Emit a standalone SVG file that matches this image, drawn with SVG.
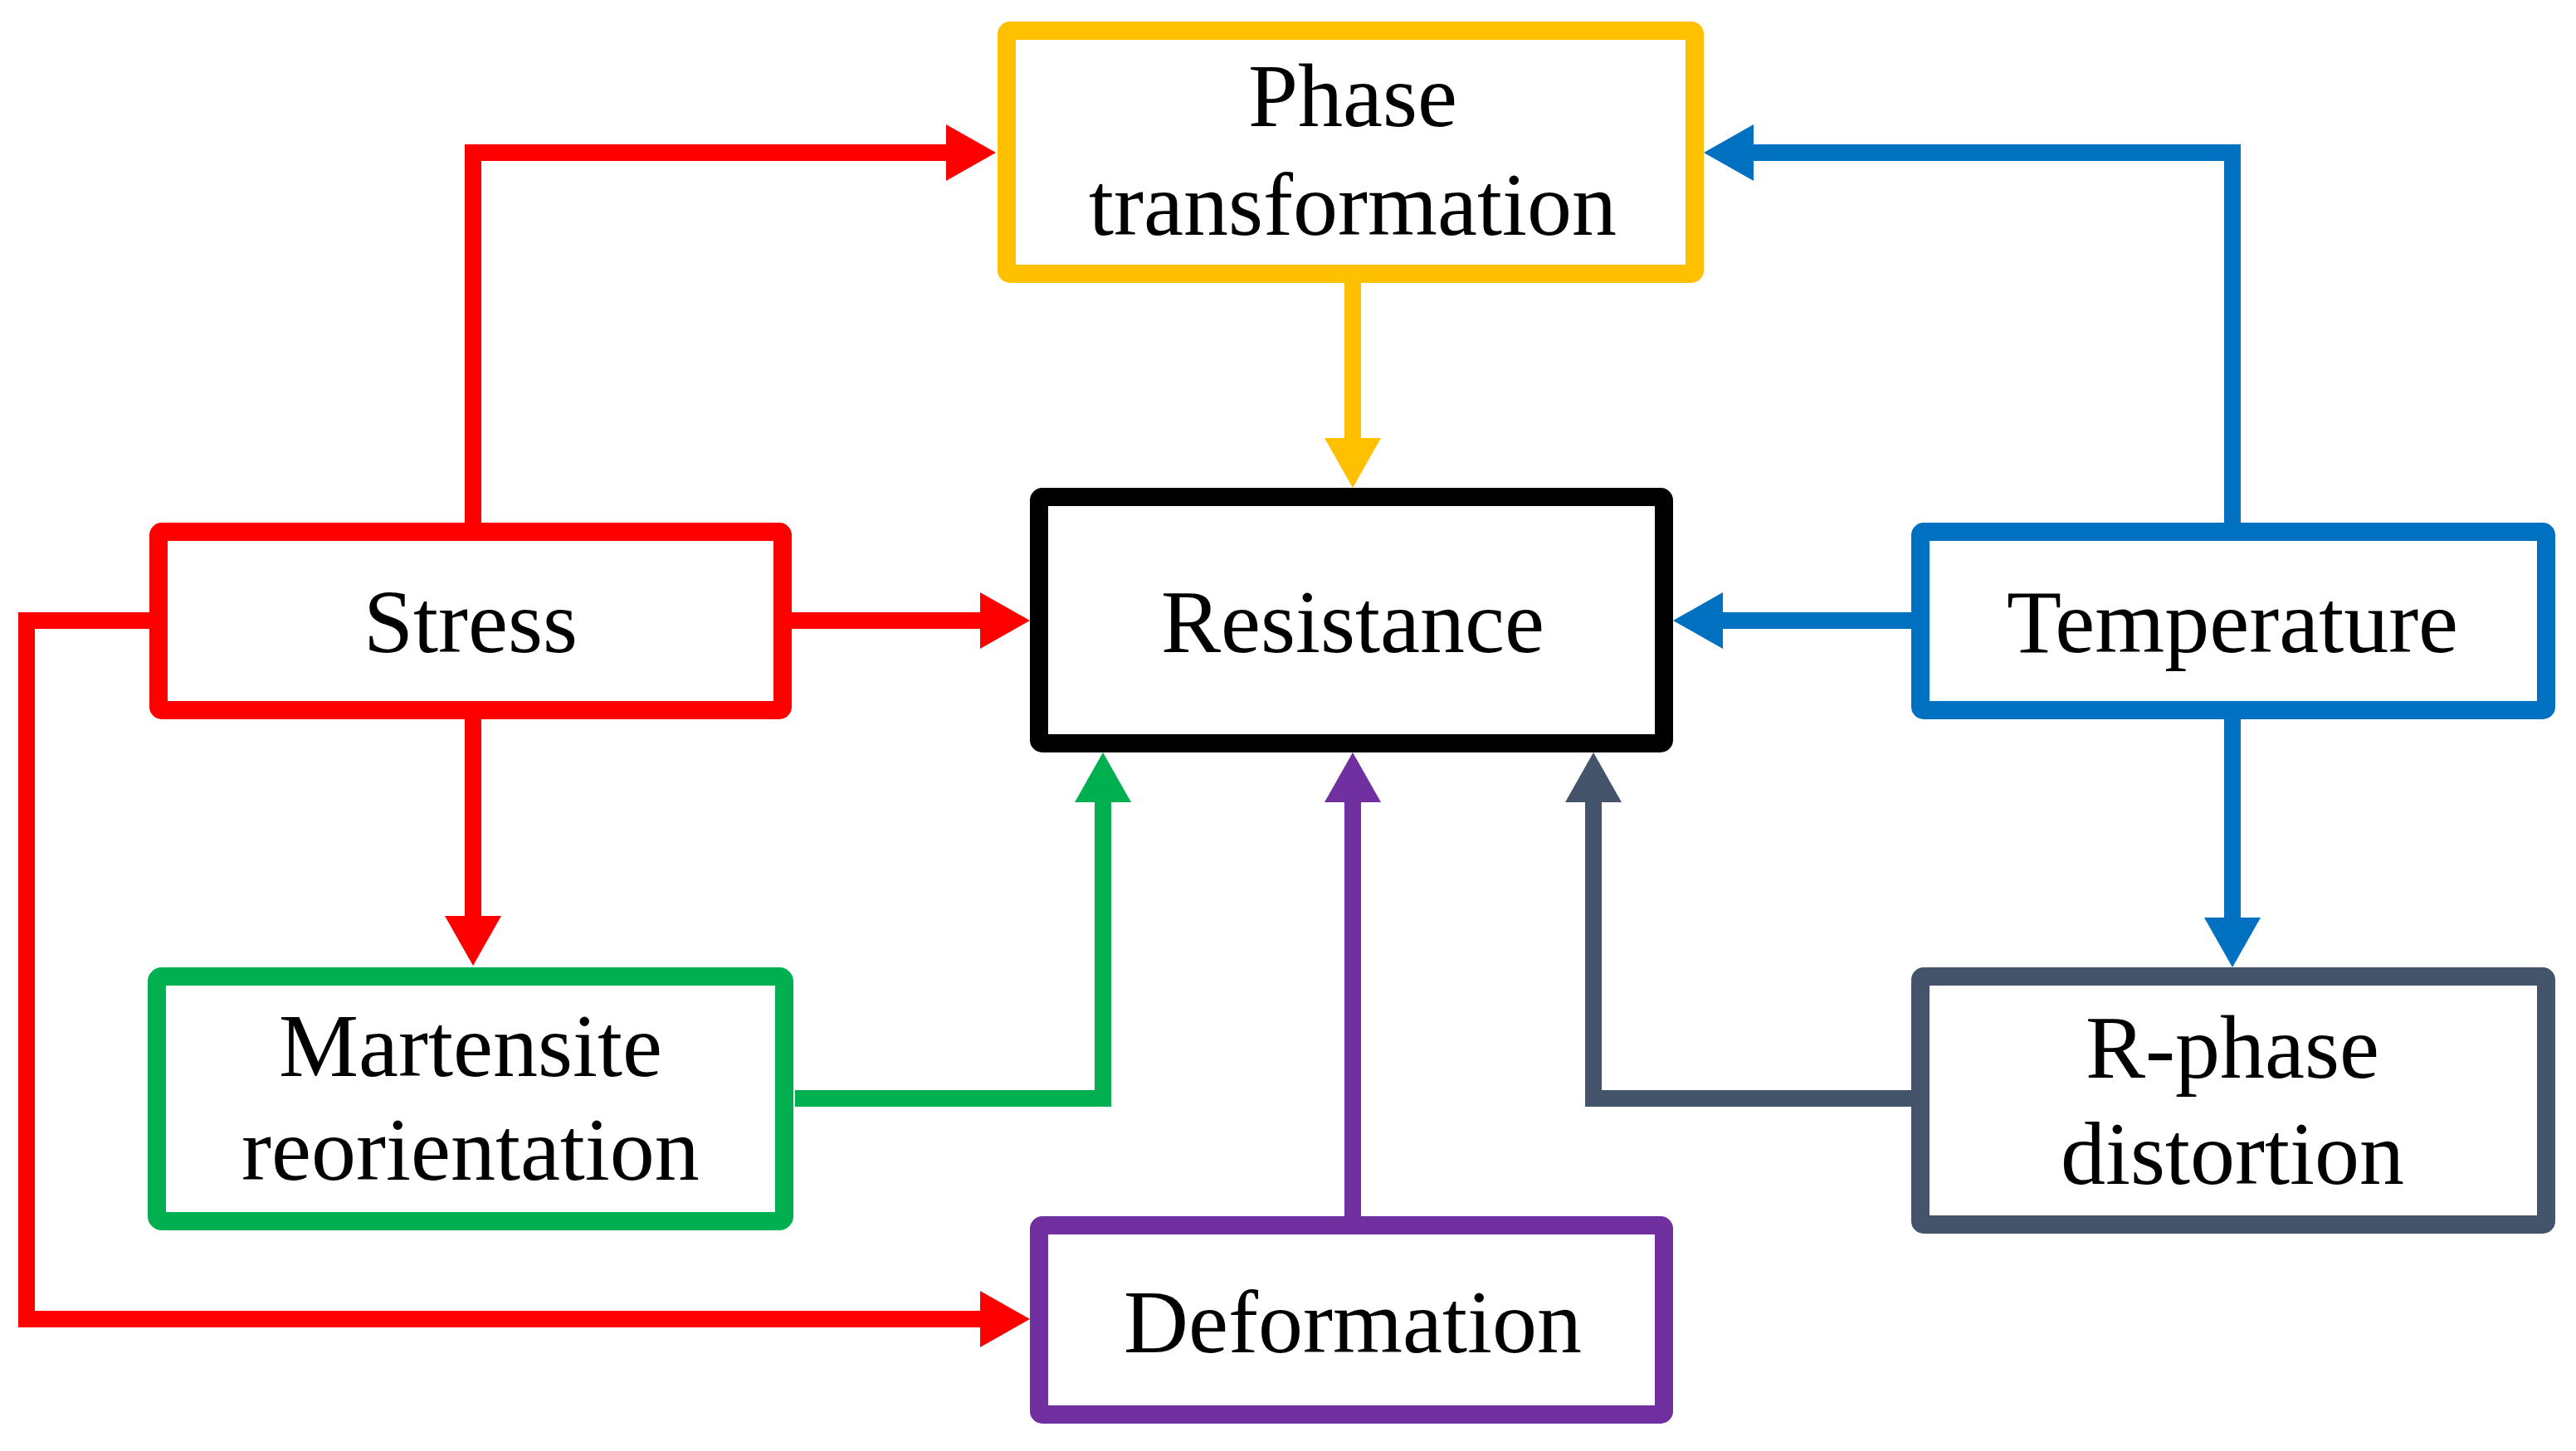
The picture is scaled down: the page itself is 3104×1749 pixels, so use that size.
<svg xmlns="http://www.w3.org/2000/svg" width="3104" height="1749" viewBox="0 0 3104 1749">
<style>
.box{fill:#fff;stroke-width:22;stroke-linejoin:round}
.t{font-family:"Liberation Serif","DejaVu Serif",serif;font-size:108px;fill:#000;text-anchor:middle}
.c{fill:none;stroke-width:20;stroke-linejoin:miter;stroke-linecap:butt}
</style>
<defs>
<marker id="ar" markerUnits="userSpaceOnUse" markerWidth="62" markerHeight="70" refX="10" refY="34" orient="auto"><path d="M0,0 L60,34 L0,68 z" fill="#FF0000"/></marker>
<marker id="ay" markerUnits="userSpaceOnUse" markerWidth="62" markerHeight="70" refX="10" refY="34" orient="auto"><path d="M0,0 L60,34 L0,68 z" fill="#FFC000"/></marker>
<marker id="ab" markerUnits="userSpaceOnUse" markerWidth="62" markerHeight="70" refX="10" refY="34" orient="auto"><path d="M0,0 L60,34 L0,68 z" fill="#0070C0"/></marker>
<marker id="ag" markerUnits="userSpaceOnUse" markerWidth="62" markerHeight="70" refX="10" refY="34" orient="auto"><path d="M0,0 L60,34 L0,68 z" fill="#00B050"/></marker>
<marker id="ap" markerUnits="userSpaceOnUse" markerWidth="62" markerHeight="70" refX="10" refY="34" orient="auto"><path d="M0,0 L60,34 L0,68 z" fill="#7030A0"/></marker>
<marker id="as" markerUnits="userSpaceOnUse" markerWidth="62" markerHeight="70" refX="10" refY="34" orient="auto"><path d="M0,0 L60,34 L0,68 z" fill="#44546A"/></marker>
</defs>
<rect width="3104" height="1749" fill="#fff"/>
<g id="connectors">
<path class="c" stroke="#FF0000" d="M570,630 V184 H1150" marker-end="url(#ar)"/>
<path class="c" stroke="#FF0000" d="M954,748 H1191" marker-end="url(#ar)"/>
<path class="c" stroke="#FF0000" d="M570,867 V1114" marker-end="url(#ar)"/>
<path class="c" stroke="#FF0000" d="M180,748 H32 V1590 H1191" marker-end="url(#ar)"/>
<path class="c" stroke="#FFC000" d="M1630,341 V538" marker-end="url(#ay)"/>
<path class="c" stroke="#0070C0" d="M2690,630 V184 H2103" marker-end="url(#ab)"/>
<path class="c" stroke="#0070C0" d="M2303,748 H2066" marker-end="url(#ab)"/>
<path class="c" stroke="#0070C0" d="M2690,867 V1116" marker-end="url(#ab)"/>
<path class="c" stroke="#00B050" d="M958,1324 H1329 V957" marker-end="url(#ag)"/>
<path class="c" stroke="#7030A0" d="M1630,1469 V957" marker-end="url(#ap)"/>
<path class="c" stroke="#44546A" d="M2303,1324 H1920 V957" marker-end="url(#as)"/>
</g>
<g id="phase"><rect class="box" stroke="#FFC000" x="1213" y="37" width="829" height="293" rx="4"/><text class="t" x="1630" y="152">Phase</text><text class="t" x="1630" y="283">transformation</text></g>
<g id="resistance"><rect class="box" stroke="#000" x="1252" y="599" width="753" height="297" rx="4"/><text class="t" x="1630" y="786">Resistance</text></g>
<g id="stress"><rect class="box" stroke="#FF0000" x="191" y="641" width="752" height="215" rx="4"/><text class="t" x="567" y="786">Stress</text></g>
<g id="temperature"><rect class="box" stroke="#0070C0" x="2314" y="641" width="754" height="215" rx="4"/><text class="t" x="2690" y="786">Temperature</text></g>
<g id="martensite"><rect class="box" stroke="#00B050" stroke-width="26" x="189" y="1177" width="756" height="295" rx="6"/><text class="t" x="567" y="1297">Martensite</text><text class="t" x="567" y="1422">reorientation</text></g>
<g id="rphase"><rect class="box" stroke="#44546A" x="2314" y="1177" width="754" height="299" rx="4"/><text class="t" x="2690" y="1299">R-phase</text><text class="t" x="2690" y="1427">distortion</text></g>
<g id="deformation"><rect class="box" stroke="#7030A0" x="1252" y="1477" width="753" height="228" rx="4"/><text class="t" x="1630" y="1630">Deformation</text></g>
</svg>
